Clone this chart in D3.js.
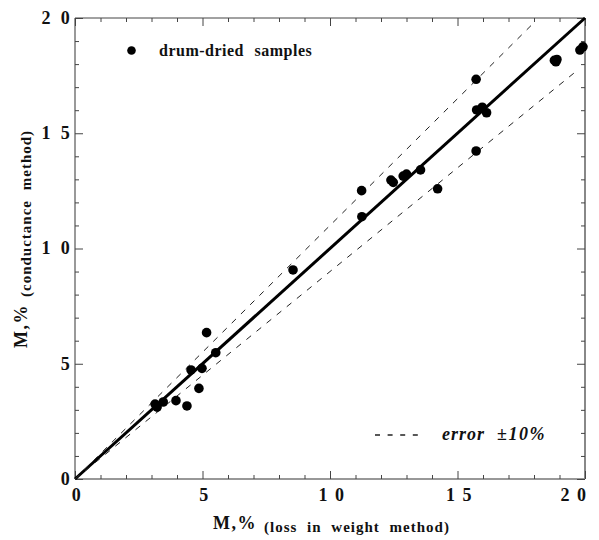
<!DOCTYPE html>
<html>
<head>
<meta charset="utf-8">
<script src="https://cdn.jsdelivr.net/npm/d3@7"></script>
<style>
  html, body { margin: 0; padding: 0; background: #fff; }
  svg { display: block; }
  text { font-family: "Liberation Serif", "Times New Roman", serif; font-weight: bold; fill: #111; }
</style>
</head>
<body>
<svg id="chart" width="599" height="540"></svg>
<script>
// ---- data ----
const xWeight = [3.14, 3.22, 3.46, 3.96, 4.39, 4.86, 4.55, 4.98, 5.52, 5.16, 8.55,
  11.24, 11.25, 12.39, 12.48, 12.87, 13.0, 13.55, 14.22, 15.73, 15.75, 15.97, 16.14,
  15.73, 18.80, 18.86, 18.90, 19.80, 19.92];
const yConductance = [3.25, 3.12, 3.34, 3.40, 3.17, 3.93, 4.73, 4.80, 5.48, 6.35, 9.07,
  12.51, 11.38, 12.97, 12.87, 13.14, 13.23, 13.41, 12.59, 14.23, 16.01, 16.13, 15.89,
  17.34, 18.16, 18.10, 18.20, 18.61, 18.75];
const majorTicks = [0, 5, 10, 15, 20];
const tickLabels = ["0", "5", "1 0", "1 5", "2 0"];
const errorFactors = [1.1, 0.9];
const errorMaxX = [18.0, 19.6];
const legendLabel = "drum-dried samples";
const errorLabel = ["error", "\u00B110%"];
const xTitle = ["M,%", "(loss in weight method)"];
const yTitle = ["M,%", "(conductance method)"];

// ---- layout ----
const svg = d3.select("#chart");
const L = 75, R = 585, T = 18, B = 479;
const x = d3.scaleLinear().domain([0, 20]).range([L, R]);
const y = d3.scaleLinear().domain([0, 20]).range([B, T]);
const allTicks = d3.range(0, 21);

// frame
svg.append("line").attr("x1", L).attr("x2", R).attr("y1", B).attr("y2", B).attr("stroke", "#333").attr("stroke-width", 1.2);
svg.append("line").attr("x1", L).attr("x2", R).attr("y1", T).attr("y2", T).attr("stroke", "#444").attr("stroke-width", 1);
svg.append("line").attr("x1", L).attr("x2", L).attr("y1", T).attr("y2", B).attr("stroke", "#555").attr("stroke-width", 1.2);
svg.append("line").attr("x1", R).attr("x2", R).attr("y1", T).attr("y2", B).attr("stroke", "#888").attr("stroke-width", 2);

function tickLen(d) { return d % 5 === 0 ? 8 : 4; }
function styleAxis(g, vertical, sign) {
  g.select(".domain").remove();
  g.selectAll(".tick line").attr("stroke", "#444").attr("stroke-width", 1)
    .attr(vertical ? "x2" : "y2", d => sign * tickLen(d));
  g.selectAll(".tick text").remove();
}
svg.append("g").attr("transform", `translate(0,${B})`)
  .call(d3.axisBottom(x).tickValues(allTicks).tickFormat("")).call(g => styleAxis(g, false, -1));
svg.append("g").attr("transform", `translate(0,${T})`)
  .call(d3.axisTop(x).tickValues(allTicks).tickFormat("")).call(g => styleAxis(g, false, 1));
svg.append("g").attr("transform", `translate(${L},0)`)
  .call(d3.axisLeft(y).tickValues(allTicks).tickFormat("")).call(g => styleAxis(g, true, 1));
svg.append("g").attr("transform", `translate(${R},0)`)
  .call(d3.axisRight(y).tickValues(allTicks).tickFormat("")).call(g => styleAxis(g, true, -1));

// tick labels
svg.append("g").selectAll("text").data(majorTicks).join("text")
  .attr("x", (d, i) => x(d) + (i === majorTicks.length - 1 ? -11 : 2))
  .attr("y", B + 22)
  .attr("text-anchor", "middle")
  .attr("font-size", 18)
  .attr("letter-spacing", 1.5)
  .text((d, i) => tickLabels[i]);
svg.append("g").selectAll("text").data(majorTicks).join("text")
  .attr("x", 72.5)
  .attr("y", d => y(d))
  .attr("dy", "0.33em")
  .attr("text-anchor", "end")
  .attr("font-size", 18)
  .attr("letter-spacing", 2.8)
  .text((d, i) => tickLabels[i]);

// lines
svg.append("line")
  .attr("x1", x(0)).attr("y1", y(0)).attr("x2", x(20)).attr("y2", y(20))
  .attr("stroke", "#000").attr("stroke-width", 3);
errorFactors.forEach((f, i) => {
  svg.append("line")
    .attr("x1", x(0)).attr("y1", y(0))
    .attr("x2", x(errorMaxX[i])).attr("y2", y(errorMaxX[i] * f))
    .attr("stroke", "#222").attr("stroke-width", 1)
    .attr("stroke-dasharray", "6,7");
});

// points
svg.append("g").selectAll("circle").data(xWeight).join("circle")
  .attr("cx", d => x(d))
  .attr("cy", (d, i) => y(yConductance[i]))
  .attr("r", 4.8)
  .attr("fill", "#000");

// legend
svg.append("circle").attr("cx", 131.5).attr("cy", 50.5).attr("r", 4.3).attr("fill", "#000");
svg.append("text").attr("x", 159).attr("y", 55.5).attr("font-size", 16)
  .attr("letter-spacing", 0.5).attr("word-spacing", 6).text(legendLabel);

svg.append("line").attr("x1", 375).attr("x2", 419).attr("y1", 435).attr("y2", 435)
  .attr("stroke", "#222").attr("stroke-width", 1.5).attr("stroke-dasharray", "5,7.6");
svg.append("text").attr("x", 442).attr("y", 439.5).attr("font-size", 18).attr("font-style", "italic")
  .attr("letter-spacing", 1).text(errorLabel[0]);
svg.append("text").attr("x", 497).attr("y", 439.5).attr("font-size", 18).attr("font-style", "italic")
  .attr("letter-spacing", 1.5).text(errorLabel[1]);

// axis titles
const xt = svg.append("text").attr("x", 213).attr("y", 528.5).attr("font-size", 18).attr("letter-spacing", 1.5);
xt.append("tspan").text(xTitle[0]);
xt.append("tspan").attr("dx", 7).attr("dy", 3.5).attr("font-size", 15)
  .attr("letter-spacing", 1).attr("word-spacing", 5).text(xTitle[1]);

const yt = svg.append("text").attr("transform", "translate(27,348) rotate(-90)").attr("font-size", 18).attr("letter-spacing", 1.5);
yt.append("tspan").text(yTitle[0]);
yt.append("tspan").attr("dx", 7).attr("dy", 3.5).attr("font-size", 15)
  .attr("letter-spacing", 1).attr("word-spacing", 5).text(yTitle[1]);
</script>
</body>
</html>
